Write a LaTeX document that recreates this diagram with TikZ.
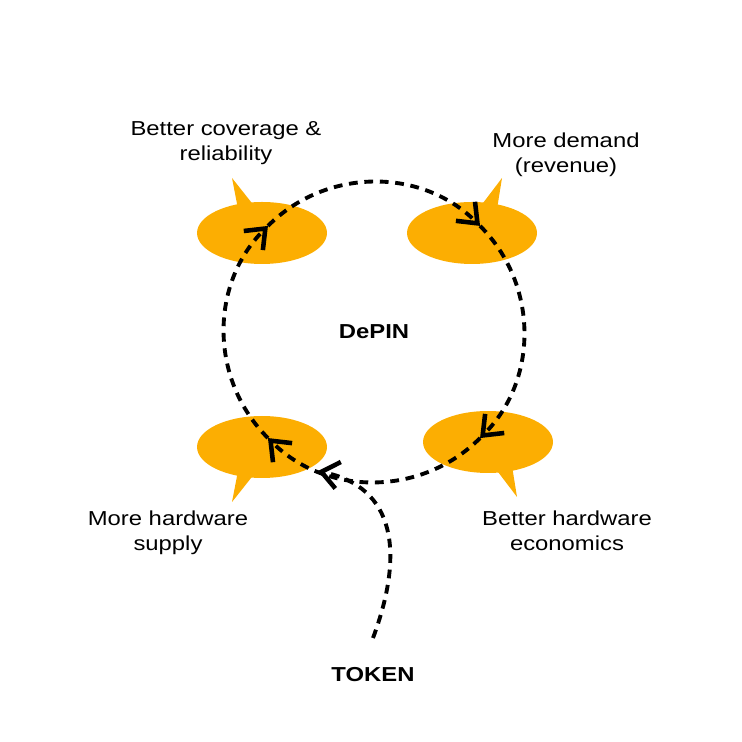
\documentclass[tikz,border=0pt]{standalone}
\usepackage{fontspec}
\setmainfont{Liberation Sans}[FakeStretch=1.18]
\usetikzlibrary{shapes.geometric,arrows.meta}
\definecolor{bubble}{RGB}{252,174,2}

\begin{document}
\begin{tikzpicture}[x=0.02cm, y=0.02cm,
  every node/.style={font=\fontsize{11.5}{14}\selectfont, align=center},
  blob/.style={ellipse, fill=bubble, minimum width=2.6cm, minimum height=1.24cm, inner sep=0},
  flow/.style={line width=2.2pt, dash pattern=on 5pt off 3.8pt,
    -{Straight Barb[length=3.4mm,width=5.4mm,line width=2.6pt]}}]
  \useasboundingbox (0,0) rectangle (741,742);
  % speech bubbles
  \node [blob] (b1) at (262,509) {};
  \node [blob] (b2) at (472,509) {};
  \node [blob] (b3) at (262,295) {};
  \node [blob] (b4) at (488,300) {};
  \fill [bubble] (b1.center) +(-24,24) -- +(-30,55) -- +(-7,26) -- cycle;
  \fill [bubble] (b2.center) +(8,26) -- +(30,55) -- +(25,24) -- cycle;
  \fill [bubble] (b3.center) +(-24,-24) -- +(-30,-55) -- +(-7,-26) -- cycle;
  \fill [bubble] (b4.center) +(7,-26) -- +(29,-55) -- +(24,-24) -- cycle;
  % labels
  \node (dep) at (374,410) {\bfseries DePIN};
  \node (tok) at (373,67) {\bfseries TOKEN};
  \node (cov) at (226,599) {Better coverage \&\\reliability};
  \node (dem) at (566,587) {More demand\\(revenue)};
  \node (sup) at (168,209) {More hardware\\supply};
  \node (eco) at (567,211) {Better hardware\\economics};
  % the loop
  \coordinate (tl) at ([shift={(135:150)}]dep.center);
  \coordinate (tr) at ([shift={(45:150)}]dep.center);
  \coordinate (br) at ([shift={(-45:150)}]dep.center);
  \coordinate (bl) at ([shift={(-135:150)}]dep.center);
  \coordinate (join) at ([shift={(-112:150)}]dep.center);
  \coordinate (tin) at (373,104);
  \draw [flow] (tl) to [bend left=45] (tr);
  \draw [flow] (tr) to [bend left=45] (br);
  \draw [flow] (br) to [bend left=45] (bl);
  \draw [flow] (bl) to [bend left=45] (tl);
  \draw [flow] (tin) .. controls (405,190) and (395,255) .. (join);
\end{tikzpicture}
\end{document}
